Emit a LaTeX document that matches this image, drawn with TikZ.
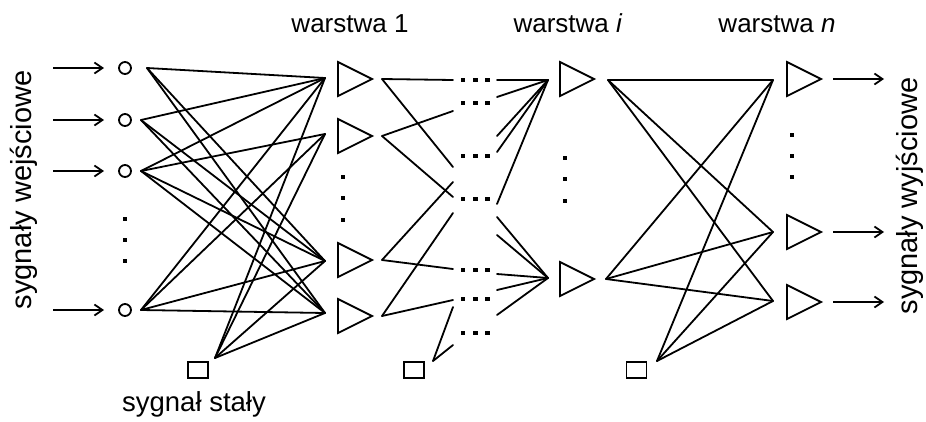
\documentclass[tikz,border=0pt]{standalone}
\usepackage{fontspec}
\setmainfont{Liberation Sans}
\usetikzlibrary{arrows.meta}
\tikzset{
  wire/.style={line width=1.8pt, line cap=round, line join=round},
  inputc/.style={circle, draw, line width=1.8pt, minimum size=12pt, inner sep=0pt},
  biasbox/.style={rectangle, draw, line width=1.8pt, minimum width=20pt, minimum height=16pt, inner sep=0pt},
  sigarrow/.style={line width=1.8pt, -{Straight Barb[length=8pt,width=11pt,line width=1.8pt]}},
  tri/.style={line width=1.8pt, line join=miter},
  neuron/.pic={\draw[tri] (0,-17) -- (34,0) -- (0,17) -- cycle;},
  lbl/.style={font=\fontsize{26}{30}\selectfont, anchor=base},
  sidelbl/.style={font=\fontsize{29}{34}\selectfont, rotate=90, anchor=center},
}
\newcommand{\hdots}[2]{\fill (#1-2.3,#2-2.3) rectangle ++(4.6,4.6); \fill (#1+10.2,#2-2.3) rectangle ++(4.6,4.6); \fill (#1+22.2,#2-2.3) rectangle ++(4.6,4.6);}
\newcommand{\vdot}[2]{\fill (#1-2.3,#2-2.3) rectangle ++(4.6,4.6);}
\begin{document}
\begin{tikzpicture}[x=1pt,y=-1pt]
\useasboundingbox (0,0) rectangle (926,421);
% labels
\node[lbl] (L1) at (350,32) {warstwa 1};
\node[lbl] (Li) at (568,32) {warstwa \textit{i}};
\node[lbl] (Ln) at (777,32) {warstwa \textit{n}};
\node[lbl,font=\fontsize{27.5}{30}\selectfont] (Ls) at (194,411) {sygnał stały};
\node[sidelbl] (Lin) at (24,190) {sygnały wejściowe};
\node[sidelbl] (Lout) at (910,196) {sygnały wyjściowe};
% input circles
\node[inputc] (x1) at (125,68) {};
\node[inputc] (x2) at (125,120) {};
\node[inputc] (x3) at (125,171) {};
\node[inputc] (x4) at (125,310) {};
\vdot{125}{219}\vdot{125}{240}\vdot{125}{261}
% input arrows
\coordinate (ia1) at (53,68); \coordinate (ia2) at (53,120);
\coordinate (ia3) at (53,171); \coordinate (ia4) at (53,310);
\coordinate (ib1) at (104,68); \coordinate (ib2) at (104,120);
\coordinate (ib3) at (104,171); \coordinate (ib4) at (104,310);
\foreach \k in {1,2,3,4} \draw[sigarrow] (ia\k) -- (ib\k);
% bias squares
\node[biasbox] (b1) at (198,370) {};
\node[biasbox] (b2) at (414,370) {};
\node[biasbox] (b3) at (636.5,370) {};
% start points
\coordinate (c1) at (147,68); \coordinate (c2) at (141,120);
\coordinate (c3) at (141,171); \coordinate (c4) at (141,310);
\coordinate (bs1) at (215,358);
% layer 1 convergence
\coordinate (a1) at (325,78); \coordinate (a2) at (325,134);
\coordinate (a3) at (325,261); \coordinate (a4) at (325,313);
% layer 1 wiring
\foreach \s/\t in {c1/a1,c1/a3,c1/a4,c2/a1,c2/a3,c2/a4,c3/a1,c3/a2,c3/a3,c3/a4,c4/a1,c4/a2,c4/a3,c4/a4,bs1/a1,bs1/a2,bs1/a3,bs1/a4}
  \draw[wire] (\s) -- (\t);
% layer 1 neurons
\foreach \yy in {79,136,260,316} \pic at (338,\yy) {neuron};
\vdot{343}{177}\vdot{343}{198}\vdot{343}{220}
% layer 1 outputs
\coordinate (o1) at (382,79); \coordinate (o2) at (382,136);
\coordinate (o3) at (382,260); \coordinate (o4) at (382,316);
\coordinate (bs2) at (433,361);
\coordinate (m1) at (453,80); \coordinate (m2) at (453,167);
\coordinate (m3) at (453,111); \coordinate (m4) at (453,197);
\coordinate (m5) at (453,182); \coordinate (m6) at (453,269);
\coordinate (m7) at (453,213); \coordinate (m8) at (453,300);
\coordinate (m9) at (453,307); \coordinate (m10) at (453,345);
\foreach \s/\t in {o1/m1,o1/m2,o2/m3,o2/m4,o3/m5,o3/m6,o4/m7,o4/m8,bs2/m9,bs2/m10}
  \draw[wire] (\s) -- (\t);
% middle dots
\foreach \yy in {80,103,156,199,270,299,333} {\hdots{463}{\yy}}
% into layer i
\coordinate (d1) at (548,80); \coordinate (d2) at (548,278);
\coordinate (p1) at (497,80); \coordinate (p2) at (497,97);
\coordinate (p3) at (497,136); \coordinate (p4) at (497,152);
\coordinate (p5) at (497,204);
\coordinate (q1) at (497,217); \coordinate (q2) at (497,235);
\coordinate (q3) at (497,274); \coordinate (q4) at (497,290);
\coordinate (q5) at (497,315);
\foreach \s in {p1,p2,p3,p4,p5} \draw[wire] (\s) -- (d1);
\foreach \s in {q1,q2,q3,q4,q5} \draw[wire] (\s) -- (d2);
% layer i neurons
\foreach \yy in {79,279} \pic at (560,\yy) {neuron};
\vdot{565}{158}\vdot{565}{179}\vdot{565}{201}
% layer i outputs to layer n
\coordinate (r1) at (608,80); \coordinate (r2) at (606,279);
\coordinate (bs3) at (657,361);
\coordinate (e1) at (773,80); \coordinate (e2) at (773,232); \coordinate (e3) at (773,301);
\foreach \s in {r1,r2,bs3} \foreach \t in {e1,e2,e3} \draw[wire] (\s) -- (\t);
% layer n neurons
\foreach \yy in {79,232,302} \pic at (787,\yy) {neuron};
\vdot{792}{135}\vdot{792}{156}\vdot{792}{177}
% output arrows
\coordinate (oa1) at (833,79); \coordinate (oa2) at (833,232); \coordinate (oa3) at (833,302);
\coordinate (ob1) at (884,79); \coordinate (ob2) at (884,232); \coordinate (ob3) at (884,302);
\foreach \k in {1,2,3} \draw[sigarrow] (oa\k) -- (ob\k);
\end{tikzpicture}
\end{document}
